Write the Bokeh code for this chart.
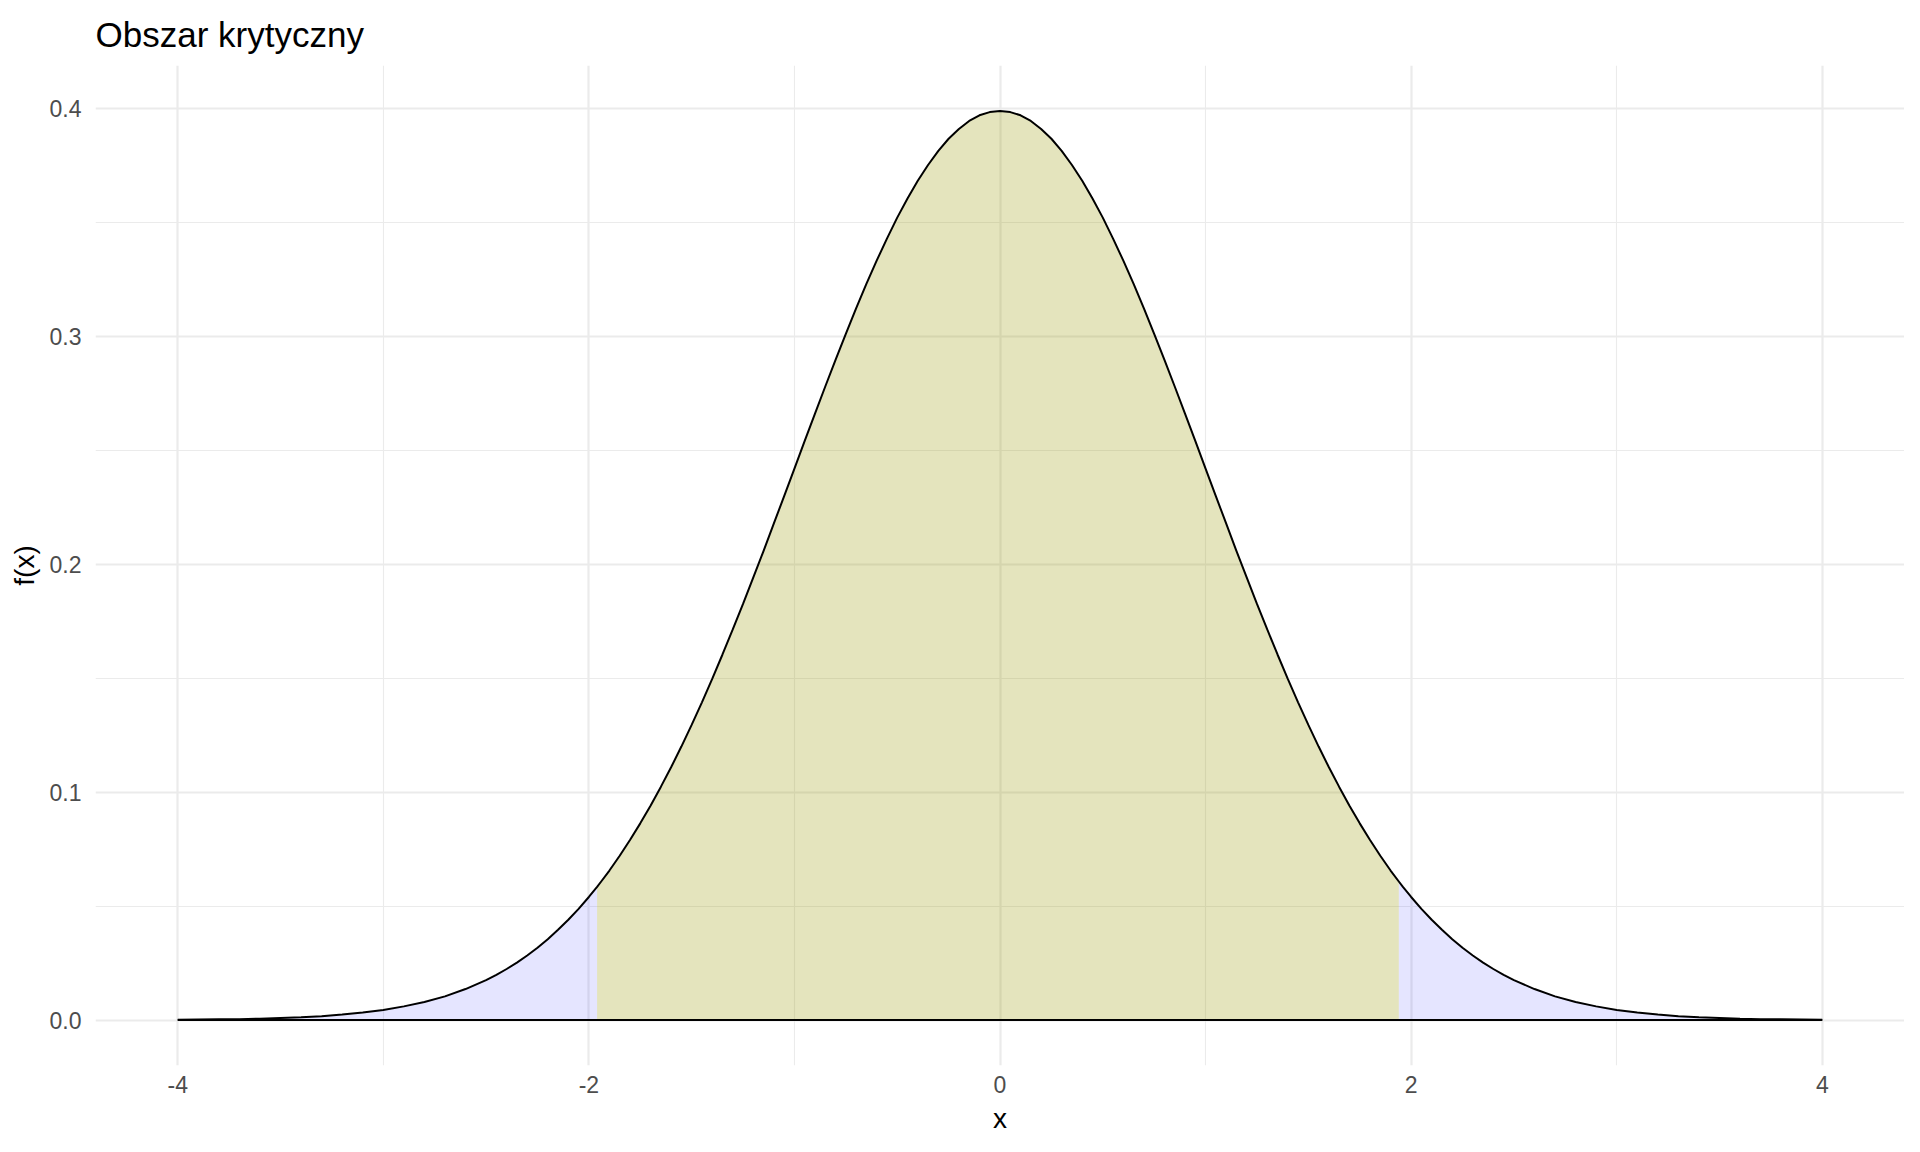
from bokeh.plotting import figure
from bokeh.models import Range1d, FixedTicker, PrintfTickFormatter
from bokeh.embed import file_html
from bokeh.resources import INLINE

# ---- data (right half; the curve is symmetric about 0) ----
x_half = [0.0, 0.05, 0.1, 0.15, 0.2, 0.25, 0.3, 0.35, 0.4, 0.45, 0.5, 0.55, 0.6, 0.65,
          0.7, 0.75, 0.8, 0.85, 0.9, 0.95, 1.0, 1.05, 1.1, 1.15, 1.2, 1.25, 1.3, 1.35,
          1.4, 1.45, 1.5, 1.55, 1.6, 1.65, 1.7, 1.75, 1.8, 1.85, 1.9, 1.94, 1.96, 2.0,
          2.05, 2.1, 2.15, 2.2, 2.25, 2.3, 2.35, 2.4, 2.45, 2.5, 2.6, 2.7, 2.8, 2.9,
          3.0, 3.1, 3.2, 3.3, 3.4, 3.5, 3.6, 3.7, 3.8, 3.9, 4.0]
fx_half = [0.3989, 0.3984, 0.3970, 0.3945, 0.3910, 0.3867, 0.3814, 0.3752, 0.3683, 0.3605,
           0.3521, 0.3429, 0.3332, 0.3230, 0.3123, 0.3011, 0.2897, 0.2780, 0.2661, 0.2541,
           0.2420, 0.2299, 0.2179, 0.2059, 0.1942, 0.1826, 0.1714, 0.1604, 0.1497, 0.1394,
           0.1295, 0.1200, 0.1109, 0.1023, 0.0940, 0.0863, 0.0790, 0.0721, 0.0656, 0.0608,
           0.0584, 0.0540, 0.0488, 0.0440, 0.0396, 0.0355, 0.0317, 0.0283, 0.0252, 0.0224,
           0.0198, 0.0175, 0.0136, 0.0104, 0.0079, 0.0060, 0.0044, 0.0033, 0.0024, 0.0017,
           0.0012, 0.0009, 0.0006, 0.0004, 0.0003, 0.0002, 0.0001]
lower_crit = -1.96
upper_crit = 1.94
x_ticks = [-4, -2, 0, 2, 4]
x_minor = [-3, -1, 1, 3]
y_ticks = [0.0, 0.1, 0.2, 0.3, 0.4]
y_minor = [0.05, 0.15, 0.25, 0.35]
title_text = "Obszar krytyczny"
x_label = "x"
y_label = "f(x)"

# full curve (mirror of the read half)
x_vals = [-x for x in x_half[:0:-1]] + x_half
fx_vals = fx_half[:0:-1] + fx_half

left_x = [x for x in x_vals if x <= lower_crit]
left_y = [y for x, y in zip(x_vals, fx_vals) if x <= lower_crit]
mid_x = [x for x in x_vals if lower_crit <= x <= upper_crit]
mid_y = [y for x, y in zip(x_vals, fx_vals) if lower_crit <= x <= upper_crit]
right_x = [x for x in x_vals if x >= upper_crit]
right_y = [y for x, y in zip(x_vals, fx_vals) if x >= upper_crit]

FONT = "Liberation Sans"

xmin, xmax = min(x_vals), max(x_vals)
ymax = max(fx_vals)
xpad = (xmax - xmin) * 0.05
ypad = ymax * 0.05

p = figure(width=1904, height=1136, output_backend="svg", toolbar_location=None,
           x_range=Range1d(xmin - xpad, xmax + xpad),
           y_range=Range1d(-ypad, ymax + ypad),
           min_border_left=95, min_border_right=0, min_border_top=64, min_border_bottom=68)
p.outline_line_color = None
p.background_fill_color = "white"
p.border_fill_color = "white"

p.title.text = title_text
p.title.text_font = FONT
p.title.text_font_size = "35px"
p.title.text_font_style = "normal"
p.title.text_color = "black"
p.title.align = "left"
p.title.text_line_height = 0.8
p.title.standoff = 24

p.xaxis.ticker = FixedTicker(ticks=x_ticks, minor_ticks=x_minor)
p.yaxis.ticker = FixedTicker(ticks=y_ticks, minor_ticks=y_minor)
p.xaxis.formatter = PrintfTickFormatter(format="%d")
p.yaxis.formatter = PrintfTickFormatter(format="%.1f")
for ax in (p.xaxis, p.yaxis):
    ax.axis_line_color = None
    ax.major_tick_line_color = None
    ax.minor_tick_line_color = None
    ax.major_tick_out = 0
    ax.major_tick_in = 0
    ax.minor_tick_out = 0
    ax.minor_tick_in = 0
    ax.major_label_text_font = FONT
    ax.major_label_text_font_size = "23px"
    ax.major_label_text_color = "#4D4D4D"
    ax.axis_label_text_font = FONT
    ax.axis_label_text_font_size = "28px"
    ax.axis_label_text_font_style = "normal"
    ax.axis_label_text_color = "black"
p.xaxis.axis_label = x_label
p.yaxis.axis_label = y_label
p.xaxis.major_label_standoff = 10
p.yaxis.major_label_standoff = 14
p.xaxis.axis_label_standoff = 7
p.yaxis.axis_label_standoff = 7

for g in (p.xgrid, p.ygrid):
    g.grid_line_color = "#EBEBEB"
    g.grid_line_width = 2.2
    g.minor_grid_line_color = "#EBEBEB"
    g.minor_grid_line_width = 1.1

p.varea(x=left_x, y1=0, y2=left_y, fill_color="#0000FF", fill_alpha=0.1)
p.varea(x=right_x, y1=0, y2=right_y, fill_color="#0000FF", fill_alpha=0.1)
p.varea(x=mid_x, y1=0, y2=mid_y, fill_color="#969800", fill_alpha=0.26)
p.line(x=x_vals, y=fx_vals, line_color="black", line_width=2)
p.line(x=[xmin, xmax], y=[0, 0], line_color="black", line_width=2)

open("out.html", "w").write(file_html(p, INLINE))
